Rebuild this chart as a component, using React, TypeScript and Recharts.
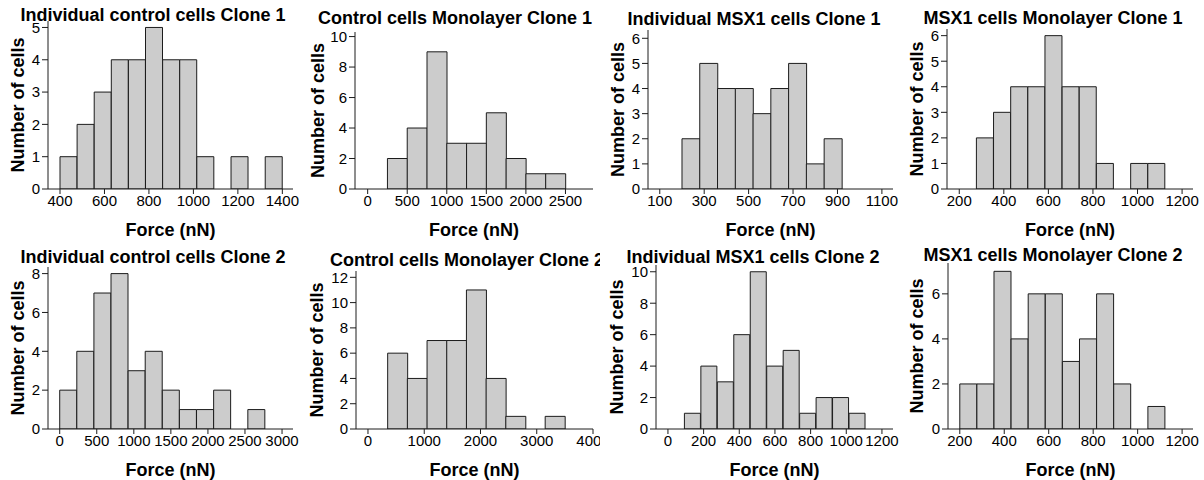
import React from "react";
import { BarChart, Bar, XAxis, YAxis, Label } from "recharts";

// counts per bin
const ctrlClone1Counts = [1, 2, 3, 4, 4, 5, 4, 4, 1, 0, 1, 0, 1];
const ctrlMonoClone1Counts = [2, 4, 9, 3, 3, 5, 2, 1, 1];
const msxClone1Counts = [2, 5, 4, 4, 3, 4, 5, 1, 2];
const msxMonoClone1Counts = [2, 3, 4, 4, 6, 4, 4, 1, 0, 1, 1];
const ctrlClone2Counts = [2, 4, 7, 8, 3, 4, 2, 1, 1, 2, 0, 1];
const ctrlMonoClone2Counts = [6, 4, 7, 7, 11, 4, 1, 0, 1];
const msxClone2Counts = [1, 4, 3, 6, 10, 4, 5, 1, 2, 2, 1];
const msxMonoClone2Counts = [2, 2, 7, 4, 6, 6, 3, 4, 6, 2, 0, 1];

// bin start / width (nN)
const binStarts = [400, 250, 200, 200 + 1000 / 13, 0, 350, 1200 / 13, 200];
const binWidths = [1000 / 13, 250, 80, 1000 / 13, 3000 / 13, 350, 1200 / 13, 1000 / 13];

// tick labels
const xTicks1 = [400, 600, 800, 1000, 1200, 1400];
const xTicks2 = [0, 500, 1000, 1500, 2000, 2500];
const xTicks3 = [100, 300, 500, 700, 900, 1100];
const xTicks4 = [200, 400, 600, 800, 1000, 1200];
const xTicks5 = [0, 500, 1000, 1500, 2000, 2500, 3000];
const xTicks6 = [0, 1000, 2000, 3000, 4000];
const xTicks7 = [0, 200, 400, 600, 800, 1000, 1200];
const xTicks8 = [200, 400, 600, 800, 1000, 1200];

const yTicks1 = [0, 1, 2, 3, 4, 5];
const yTicks2 = [0, 2, 4, 6, 8, 10];
const yTicks3 = [0, 1, 2, 3, 4, 5, 6];
const yTicks4 = [0, 1, 2, 3, 4, 5, 6];
const yTicks5 = [0, 2, 4, 6, 8];
const yTicks6 = [0, 2, 4, 6, 8, 10, 12];
const yTicks7 = [0, 2, 4, 6, 8, 10];
const yTicks8 = [0, 2, 4, 6];

const titles = [
  "Individual control cells Clone 1",
  "Control cells Monolayer Clone 1",
  "Individual MSX1 cells Clone 1",
  "MSX1 cells Monolayer Clone 1",
  "Individual control cells Clone 2",
  "Control cells Monolayer Clone 2",
  "Individual MSX1 cells Clone 2",
  "MSX1 cells Monolayer Clone 2",
];

const counts = [
  ctrlClone1Counts, ctrlMonoClone1Counts, msxClone1Counts, msxMonoClone1Counts,
  ctrlClone2Counts, ctrlMonoClone2Counts, msxClone2Counts, msxMonoClone2Counts,
];
const xTicks = [xTicks1, xTicks2, xTicks3, xTicks4, xTicks5, xTicks6, xTicks7, xTicks8];
const yTicks = [yTicks1, yTicks2, yTicks3, yTicks4, yTicks5, yTicks6, yTicks7, yTicks8];

// axis ranges
const xDomains: [number, number][] = [
  [346, 1448], [-160, 2848], [47, 1150], [145, 1249],
  [-158, 3148], [-213, 4000], [-67, 1262], [147, 1249],
];
const yMaxes = [5.2, 10.3, 6.33, 6.26, 8.34, 12.5, 10.43, 7.37];

// layout: y axis x-position, plot top, title centre / baseline
const axisXs = [48, 55, 48, 47, 48, 56, 56, 48];
const plotTops = [21, 32, 30, 29, 27, 31, 25, 23];
const titleXs = [153, 155, 154, 153, 153, 167, 153, 153];
const titleYs = [21, 24, 25, 24, 23, 26, 23, 21];
const yLabelXs = [18, 18, 18, 17, 18, 17, 17, 17];

const FONT = "'Liberation Sans', Arial, Helvetica, sans-serif";
const NARROW = "'Liberation Sans Narrow', 'Arial Narrow', 'Liberation Sans', Arial, sans-serif";
const INK = "#1c1c1c";

const Panel = ({ i }: { i: number }) => {
  const rows = counts[i].map((c, k) => ({
    mid: binStarts[i] + (k + 0.5) * binWidths[i],
    count: c,
  }));
  const col = i % 4;
  const row = Math.floor(i / 4);
  return (
    <div
      style={{
        position: "absolute",
        left: col * 300,
        top: row * 240,
        width: col === 3 ? 304 : 300,
        height: 240,
        overflow: "hidden",
      }}
    >
      <BarChart
        width={300}
        height={240}
        data={rows}
        margin={{ top: plotTops[i], right: 7, bottom: 1, left: 0 }}
        barCategoryGap={0}
        barGap={0}
      >
        <XAxis
          dataKey="mid"
          type="number"
          domain={xDomains[i]}
          allowDataOverflow
          ticks={xTicks[i]}
          interval={0}
          height={50}
          tickSize={5}
          tickMargin={1}
          axisLine={{ stroke: INK }}
          tickLine={{ stroke: INK }}
          tick={{ fill: "#000", fontSize: 15, fontFamily: NARROW }}
        >
          <Label
            value="Force (nN)"
            position="insideBottom"
            offset={3}
            fill="#000"
            style={{ fontWeight: 700, fontSize: 18, fontFamily: FONT, fill: "#000" }}
          />
        </XAxis>
        <YAxis
          type="number"
          domain={[0, yMaxes[i]]}
          allowDataOverflow
          ticks={yTicks[i]}
          interval={0}
          width={axisXs[i]}
          tickSize={6}
          tickMargin={2}
          axisLine={{ stroke: INK }}
          tickLine={{ stroke: INK }}
          tick={{ fill: "#000", fontSize: 15, fontFamily: NARROW }}
        >
          <Label
            value="Number of cells"
            angle={-90}
            position="insideLeft"
            offset={yLabelXs[i]}
            fill="#000"
            style={{ textAnchor: "middle", fontWeight: 700, fontSize: 18, fontFamily: FONT, fill: "#000" }}
          />
        </YAxis>
        <Bar
          dataKey="count"
          fill="#cccccc"
          stroke={INK}
          strokeWidth={1}
          isAnimationActive={false}
        />
        <text
          x={titleXs[i]}
          y={titleYs[i]}
          textAnchor="middle"
          style={{ fontWeight: 700, fontSize: 18, fontFamily: FONT, fill: "#000" }}
        >
          {titles[i]}
        </text>
      </BarChart>
    </div>
  );
};

const App: React.FC = () => (
  <div
    style={{
      position: "absolute",
      left: 0,
      top: 0,
      width: 1204,
      height: 480,
      background: "#fff",
    }}
  >
    {titles.map((_, i) => (
      <Panel key={i} i={i} />
    ))}
  </div>
);

export default App;
